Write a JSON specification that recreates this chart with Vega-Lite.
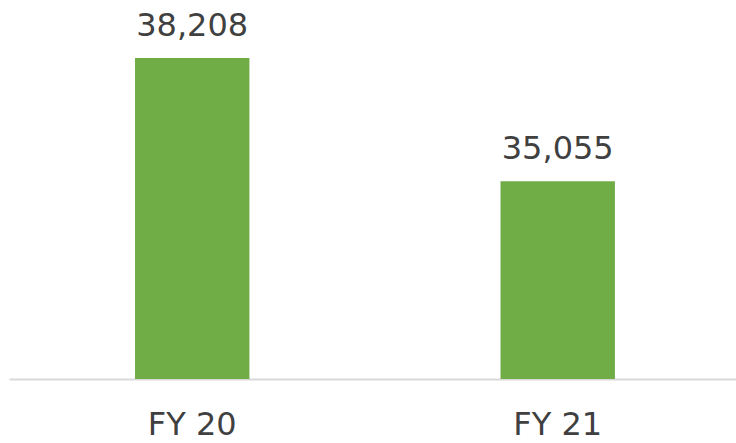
{
  "$schema": "https://vega.github.io/schema/vega-lite/v6.json",
  "width": 727,
  "height": 379,
  "autosize": {"type": "none"},
  "padding": {"left": 9, "top": 0, "right": 0, "bottom": 64},
  "background": "white",
  "config": {"view": {"stroke": null}},
  "data": {"values": [
    {"year": "FY 20", "value": 38208},
    {"year": "FY 21", "value": 35055}
  ]},
  "encoding": {
    "x": {
      "field": "year", "type": "nominal", "sort": null,
      "scale": {"paddingInner": 0.687, "paddingOuter": 0.338, "align": 0.51},
      "axis": {
        "title": null, "labelAngle": 0, "ticks": false, "grid": false,
        "domainColor": "#d9d9d9", "domainWidth": 2,
        "labelFont": "DejaVu Sans", "labelFontSize": 32, "labelColor": "#404040",
        "labelBaseline": "alphabetic", "labelPadding": 55
      }
    },
    "y": {
      "field": "value", "type": "quantitative",
      "scale": {"domain": [30000, 39690], "zero": false, "nice": false},
      "axis": null
    }
  },
  "layer": [
    {"mark": {"type": "bar", "color": "#70AD47", "clip": true}},
    {
      "mark": {"type": "text", "baseline": "alphabetic", "dy": -22, "font": "DejaVu Sans", "fontSize": 32, "color": "#404040"},
      "encoding": {"text": {"field": "value", "type": "quantitative", "format": ","}}
    }
  ]
}
